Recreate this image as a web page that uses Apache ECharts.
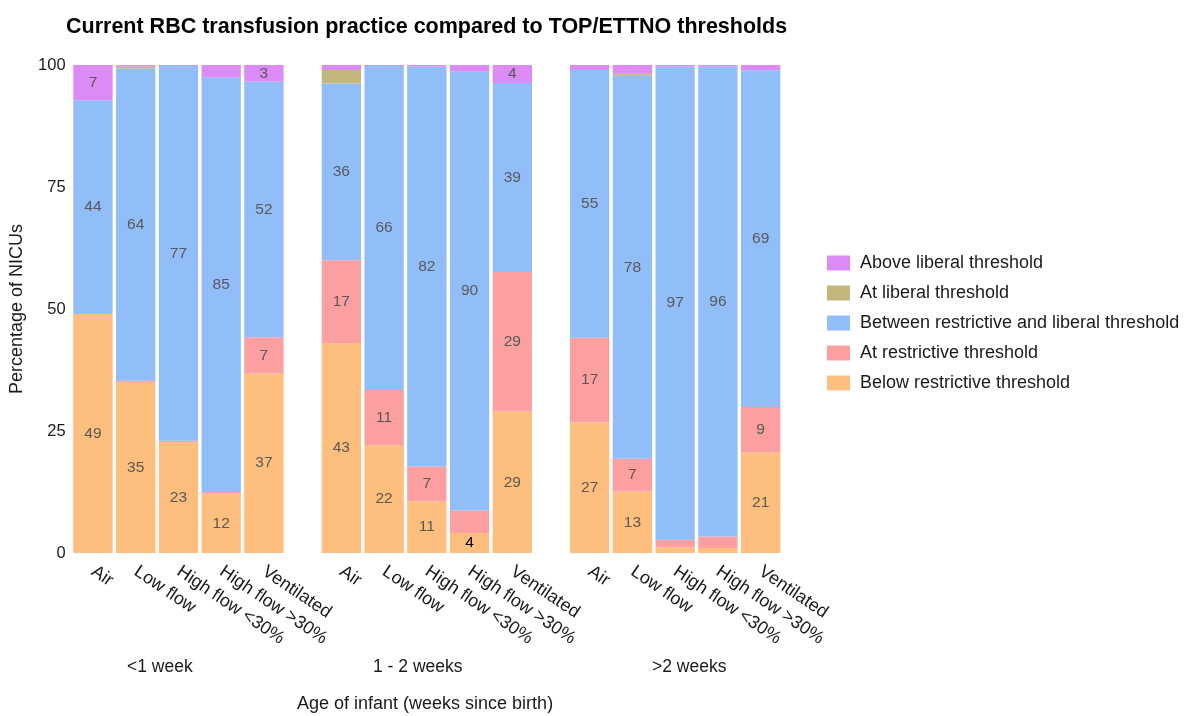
<!DOCTYPE html>
<html>
<head>
<meta charset="utf-8">
<script src="https://cdn.jsdelivr.net/npm/echarts@6/dist/echarts.min.js"></script>
<style>
  html, body { margin: 0; padding: 0; background: #fff; }
  #main { width: 1184px; height: 716px; }
</style>
</head>
<body>
<div id="main"></div>
<script>
// categories and facets
var categories = ['Air', 'Low flow', 'High flow <30%', 'High flow >30%', 'Ventilated'];
var groups = ['<1 week', '1 - 2 weeks', '>2 weeks'];
var yTicks = [0, 25, 50, 75, 100];

// percentage of NICUs, one row per age group
var below = [[49, 35, 22.7, 12.2, 36.8], [43, 22.1, 10.6, 4.1, 29], [26.8, 12.6, 1.2, 1.0, 20.6]];
var atRestrictive = [[0, 0.3, 0.3, 0.3, 7.4], [17, 11.3, 7.1, 4.6, 28.6], [17.3, 6.7, 1.5, 2.4, 9.3]];
var between = [[43.8, 64, 76.8, 85, 52.4], [36.2, 66.4, 82, 89.9, 38.7], [54.9, 78.5, 97, 96.3, 69]];
var atLiberal = [[0, 0.4, 0, 0, 0], [2.8, 0, 0, 0, 0], [0, 0.4, 0, 0, 0]];
var above = [[7.2, 0.3, 0.2, 2.5, 3.4], [1.0, 0.2, 0.3, 1.4, 3.7], [1.0, 1.8, 0.3, 0.3, 1.1]];

// printed labels (null = not printed)
var belowLbl = [[49, 35, 23, 12, 37], [43, 22, 11, 4, 29], [27, 13, null, null, 21]];
var atRestrictiveLbl = [[null, null, null, null, 7], [17, 11, 7, null, 29], [17, 7, null, null, 9]];
var betweenLbl = [[44, 64, 77, 85, 52], [36, 66, 82, 90, 39], [55, 78, 97, 96, 69]];
var atLiberalLbl = [[null, null, null, null, null], [null, null, null, null, null], [null, null, null, null, null]];
var aboveLbl = [[7, null, null, null, 3], [null, null, null, null, 4], [null, null, null, null, null]];

var seriesDefs = [
    { name: 'Below restrictive threshold', color: '#FDBE7E', vals: below, lbl: belowLbl },
    { name: 'At restrictive threshold', color: '#FB9FA1', vals: atRestrictive, lbl: atRestrictiveLbl },
    { name: 'Between restrictive and liberal threshold', color: '#91BEF8', vals: between, lbl: betweenLbl },
    { name: 'At liberal threshold', color: '#C2B77C', vals: atLiberal, lbl: atLiberalLbl },
    { name: 'Above liberal threshold', color: '#DC8AF5', vals: above, lbl: aboveLbl }
];

var panelLeft = [71.6, 320, 568.3];
var panelWidth = 213.7;
var font = 'Liberation Sans';

var grids = [], xAxes = [], yAxes = [], series = [];
groups.forEach(function (g, gi) {
    grids.push({ left: panelLeft[gi], width: panelWidth, top: 65, height: 488 });
    xAxes.push({
        type: 'category', gridIndex: gi, data: categories,
        axisLine: { show: false }, axisTick: { show: false },
        axisLabel: { rotate: -34, margin: 17, fontSize: 18, color: '#1a1a1a', fontFamily: font, interval: 0 }
    });
    yAxes.push({
        type: 'value', gridIndex: gi, min: 0, max: 100, interval: 25,
        show: gi === 0,
        name: gi === 0 ? 'Percentage of NICUs' : '',
        nameLocation: 'middle', nameGap: 46,
        nameTextStyle: { fontSize: 18, color: '#1a1a1a', fontFamily: font },
        axisLine: { show: false }, axisTick: { show: false },
        splitLine: { show: false },
        axisLabel: { fontSize: 16.5, color: '#1a1a1a', margin: 6, fontFamily: font }
    });
    seriesDefs.forEach(function (s) {
        series.push({
            name: s.name, type: 'bar', stack: 'g' + gi,
            xAxisIndex: gi, yAxisIndex: gi,
            barCategoryGap: '8%',
            itemStyle: { color: s.color },
            data: s.vals[gi].map(function (v, i) {
                var t = s.lbl[gi][i];
                return {
                    value: v,
                    label: {
                        show: t !== null, formatter: String(t),
                        color: (t === 4 && s.name === 'Below restrictive threshold') ? '#000' : '#595959'
                    }
                };
            }),
            label: { position: 'inside', fontSize: 15.5, fontFamily: font }
        });
    });
});

var legendOrder = ['Above liberal threshold', 'At liberal threshold',
    'Between restrictive and liberal threshold', 'At restrictive threshold', 'Below restrictive threshold'];

var chart = echarts.init(document.getElementById('main'));
chart.setOption({
    animation: false,
    title: {
        text: 'Current RBC transfusion practice compared to TOP/ETTNO thresholds',
        left: 61, top: 11,
        textStyle: { fontSize: 21.5, fontWeight: 'bold', color: '#000', fontFamily: font }
    },
    legend: {
        orient: 'vertical', left: 822, top: 249,
        data: legendOrder,
        itemWidth: 23, itemHeight: 15, itemGap: 12,
        icon: 'rect',
        textStyle: { fontSize: 18, color: '#1a1a1a', fontFamily: font, padding: [0, 0, 0, 5] }
    },
    grid: grids,
    xAxis: xAxes,
    yAxis: yAxes,
    series: series,
    graphic: [
        { type: 'text', left: 127, top: 658, style: { text: groups[0], fontSize: 17.5, fill: '#1a1a1a', fontFamily: font } },
        { type: 'text', left: 373, top: 658, style: { text: groups[1], fontSize: 17.5, fill: '#1a1a1a', fontFamily: font } },
        { type: 'text', left: 652, top: 658, style: { text: groups[2], fontSize: 17.5, fill: '#1a1a1a', fontFamily: font } },
        { type: 'text', left: 297, top: 695, style: { text: 'Age of infant (weeks since birth)', fontSize: 18, fill: '#1a1a1a', fontFamily: font } }
    ]
});
</script>
</body>
</html>
